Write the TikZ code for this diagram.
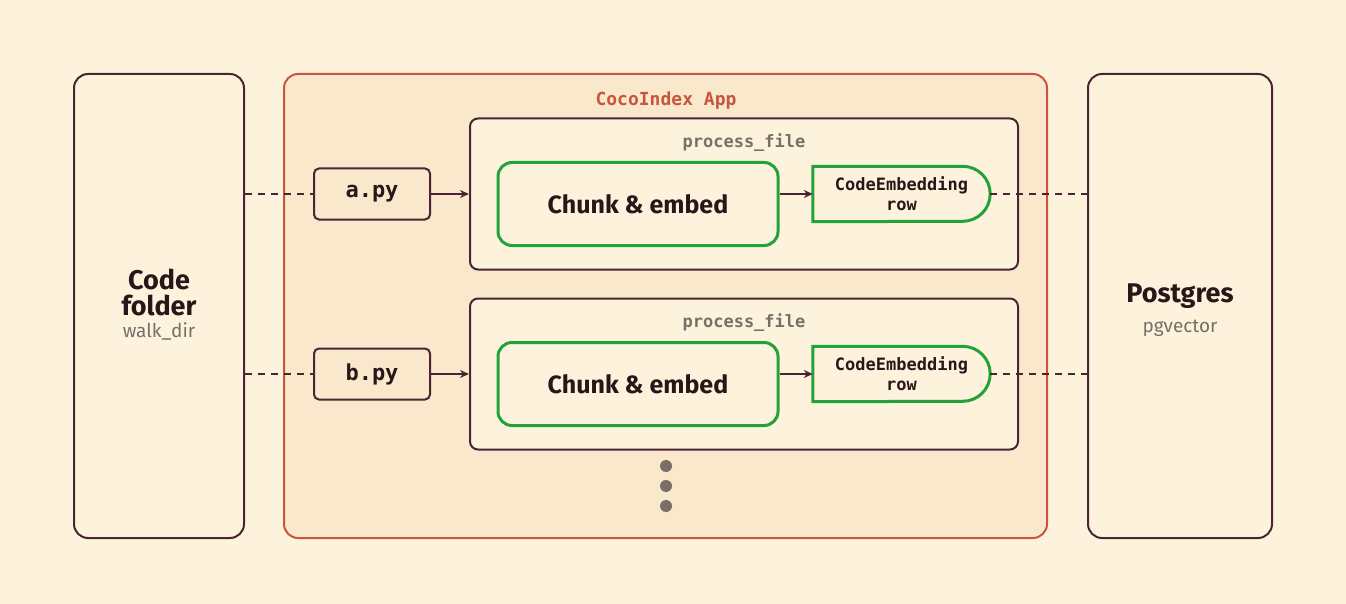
\documentclass[tikz,border=0pt]{standalone}
\usepackage{fontspec}
\setmainfont{Fira Sans}
\setmonofont{DejaVu Sans Mono}
\usetikzlibrary{arrows.meta,positioning}
\definecolor{bgcol}{HTML}{FDF3DC}
\definecolor{appfill}{HTML}{FAE8CC}
\definecolor{appline}{HTML}{C8553D}
\definecolor{ink}{HTML}{4A2433}
\definecolor{txt}{HTML}{2A1519}
\definecolor{grn}{HTML}{22A33A}
\definecolor{mute}{HTML}{7A6E68}
\tikzset{
  store/.style={draw=ink,line width=2pt,rounded corners=14pt,fill=bgcol,minimum width=170pt,minimum height=464pt},
  proc/.style={draw=ink,line width=2pt,rounded corners=8pt,fill=bgcol,minimum width=548pt,minimum height=151pt},
  file/.style={draw=ink,line width=2pt,rounded corners=5pt,minimum width=116pt,minimum height=51pt,font=\ttfamily\bfseries\fontsize{22}{26}\selectfont,text=txt},
  chunk/.style={draw=grn,line width=3pt,rounded corners=14pt,minimum width=280pt,minimum height=83pt,font=\fontsize{25}{28}\selectfont\bfseries,text=txt},
  rowtxt/.style={align=center,font=\ttfamily\bfseries\fontsize{17}{20}\selectfont,text=txt,minimum width=177pt,minimum height=55pt,inner sep=0pt},
  flow/.style={ink,line width=2pt,-{Stealth[length=9pt,width=8pt]}},
  link/.style={ink,line width=2pt,dash pattern=on 7pt off 6pt},
}
\begin{document}
\begin{tikzpicture}[x=1pt,y=-1pt]
\fill[bgcol] (0,0) rectangle (1346,604);
\useasboundingbox (0,0) rectangle (1346,604);
% stores
\node[store] (folder) at (159,306) {};
\node[font=\fontsize{27}{27}\selectfont\bfseries,text=txt,align=center] (foldertxt) at (159,292) {Code\\[-1pt]folder};
\node[font=\fontsize{19}{19}\selectfont,text=mute] (walk) at (159,331) {walk\_dir};
\node[store,minimum width=184pt] (pg) at (1180,306) {};
\node[font=\fontsize{27}{27}\selectfont\bfseries,text=txt] (pgtxt) at (1180,296) {Postgres};
\node[font=\fontsize{19}{19}\selectfont,text=mute] (pgv) at (1180,328) {pgvector};
% app
\draw[appline,fill=appfill,line width=2pt,rounded corners=14pt] (284,74) rectangle (1047,538);
\node[font=\ttfamily\bfseries\fontsize{18}{18}\selectfont,text=appline] (apptitle) at (666,101) {CocoIndex App};
\foreach \n/\f/\y in {1/a/194,2/b/374}{
  \node[proc] (proc\n) at (744,\y) {};
  \node[font=\ttfamily\bfseries\fontsize{17}{17}\selectfont,text=mute] (plabel\n) at (744,\y-51) {process\_file};
  \node[file] (\f py) at (372,\y) {\f.py};
  \node[chunk] (chunk\n) at (638,\y+10) {Chunk \& embed};
  \node[rowtxt] (row\n) at (901.5,\y) {CodeEmbedding\\row};
  \draw[grn,line width=3pt] (row\n.north west) -- ([xshift=-27.5pt]row\n.north east)
    arc[start angle=90,end angle=-90,radius=27.5pt] -- (row\n.south west) -- cycle;
  \draw[link] (folder.east|-\f py) -- (\f py.west);
  \draw[flow] (\f py.east) -- (proc\n.west|-\f py);
  \draw[flow] (chunk\n.east|-row\n) -- (row\n.west);
  \draw[link] (row\n.east) -- (pg.west|-row\n);
}
\foreach \y in {466,486,506}
  \fill[mute] (666,\y) circle (6pt);
\end{tikzpicture}
\end{document}
